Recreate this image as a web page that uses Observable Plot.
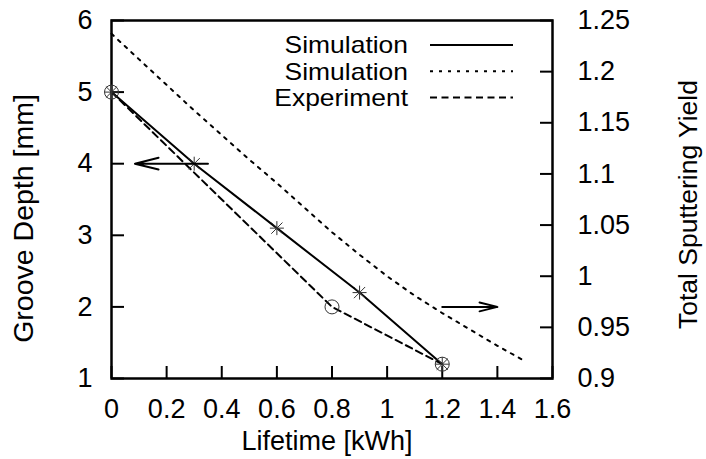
<!DOCTYPE html>
<html><head><meta charset="utf-8">
<script src="https://cdn.jsdelivr.net/npm/d3@7"></script>
<script src="https://cdn.jsdelivr.net/npm/@observablehq/plot@0.6"></script>
<style>body{margin:0;background:#fff}</style>
</head><body><div id="chart"></div>
<script>
// ---- data ----
const lifetimeSim = [0, 0.3, 0.6, 0.9, 1.2];
const depthSim = [5, 4, 3.1, 2.2, 1.2];
const lifetimeExp = [0, 0.8, 1.2];
const depthExp = [5, 2, 1.2];
const lifetimeYield = [0, 0.1, 0.2, 0.3, 0.4, 0.5, 0.6, 0.7, 0.8, 0.9, 1.0, 1.1, 1.2, 1.3, 1.4, 1.5];
const yieldSim = [1.237, 1.212, 1.187, 1.162, 1.138, 1.114, 1.091, 1.067, 1.043, 1.021, 1.0, 0.981, 0.964, 0.948, 0.932, 0.917];
const xTicks = [0, 0.2, 0.4, 0.6, 0.8, 1, 1.2, 1.4, 1.6];
const depthTicks = [1, 2, 3, 4, 5, 6];
const yieldTicks = [0.9, 0.95, 1, 1.05, 1.1, 1.15, 1.2, 1.25];
const xDomain = [0, 1.6];
const depthDomain = [1, 6];
const yieldDomain = [0.9, 1.25];
const arrowFromX = [0.35, 1.2];
const arrowToX = [0.085, 1.4];
const arrowDepth = [4, 2];
const legendLabels = ["Simulation", "Simulation", "Experiment"];
const legendDash = [null, "3,6", "7,4.5"];

// map right-axis values onto the left (depth) scale
const toDepth = v => depthDomain[0] + (v - yieldDomain[0]) / (yieldDomain[1] - yieldDomain[0]) * (depthDomain[1] - depthDomain[0]);

const simData = lifetimeSim.map((x, i) => ({x, y: depthSim[i]}));
const expData = lifetimeExp.map((x, i) => ({x, y: depthExp[i]}));
const yieldData = lifetimeYield.map((x, i) => ({x, y: toDepth(yieldSim[i])}));
const arrows = arrowFromX.map((x1, i) => ({x1, x2: arrowToX[i], y: arrowDepth[i]}));

const star = {
  draw(ctx, size) {
    const r = Math.sqrt(size / Math.PI), d = r * 0.8;
    ctx.moveTo(-r, 0); ctx.lineTo(r, 0);
    ctx.moveTo(0, -r); ctx.lineTo(0, r);
    ctx.moveTo(-d, -d); ctx.lineTo(d, d);
    ctx.moveTo(-d, d); ctx.lineTo(d, -d);
  }
};

function legend(index, scales, values, dimensions) {
  const g = d3.create("svg:g");
  const right = 408, x1 = 430, x2 = 513, top = 45, step = 26.3;
  legendLabels.forEach((lab, i) => {
    const y = top + i * step;
    g.append("text").attr("transform", `translate(${right},${y}) scale(1.13,1)`).attr("dy", "0.35em")
      .attr("text-anchor", "end").attr("fill", "#000").attr("font-size", "23.4px").text(lab);
    const l = g.append("line").attr("x1", x1).attr("x2", x2).attr("y1", y).attr("y2", y)
      .attr("stroke", "#000").attr("stroke-width", 2);
    if (legendDash[i]) l.attr("stroke-dasharray", legendDash[i]);
  });
  return g.node();
}

const fmt = d => String(+(+d).toFixed(2));

const chart = Plot.plot({
  width: 706, height: 459,
  marginLeft: 111, marginRight: 154, marginTop: 20, marginBottom: 81,
  style: {fontFamily: '"Liberation Sans", Arial, sans-serif', fontSize: "27px", color: "#000", background: "#fff"},
  x: {domain: xDomain},
  y: {domain: depthDomain},
  marks: [
    Plot.axisX({ticks: xTicks, tickFormat: fmt, tickSize: -12, tickPadding: 32, strokeWidth: 2, label: null}),
    Plot.axisY({anchor: "left", ticks: depthTicks, tickFormat: fmt, tickSize: -13, tickPadding: 32, strokeWidth: 2, label: null}),
    Plot.axisY({anchor: "right", ticks: yieldTicks.map(toDepth),
      tickFormat: d => fmt(yieldTicks.find(v => Math.abs(toDepth(v) - d) < 1e-6)),
      tickSize: -13, tickPadding: 38, strokeWidth: 2, label: null}),
    Plot.frame({strokeWidth: 2.5}),
    Plot.line(yieldData, {x: "x", y: "y", stroke: "#000", strokeWidth: 2, strokeDasharray: "3,6"}),
    Plot.line(expData, {x: "x", y: "y", stroke: "#000", strokeWidth: 2, strokeDasharray: "7,4.5"}),
    Plot.line(simData, {x: "x", y: "y", stroke: "#000", strokeWidth: 2}),
    Plot.dot(expData, {x: "x", y: "y", r: 7, stroke: "#333", strokeWidth: 1}),
    Plot.dot(simData, {x: "x", y: "y", r: 7, symbol: star, stroke: "#333", strokeWidth: 1}),
    Plot.arrow(arrows, {x1: "x1", x2: "x2", y1: "y", y2: "y", stroke: "#000", strokeWidth: 2, headLength: 22, headAngle: 28, inset: 0}),
    Plot.text(["Lifetime [kWh]"], {text: d => d, frameAnchor: "bottom", dx: -5, dy: 63, lineAnchor: "middle", textAnchor: "middle"}),
    Plot.text(["Groove Depth [mm]"], {text: d => d, frameAnchor: "left", rotate: -90, dx: -88, dy: 19, lineAnchor: "middle", textAnchor: "middle", fontSize: 28.5}),
    Plot.text(["Total Sputtering Yield"], {text: d => d, frameAnchor: "right", rotate: -90, dx: 136, dy: 5, lineAnchor: "middle", textAnchor: "middle", fontSize: 26.5}),
    legend
  ]
});
document.getElementById("chart").appendChild(chart);
</script>
</body></html>
